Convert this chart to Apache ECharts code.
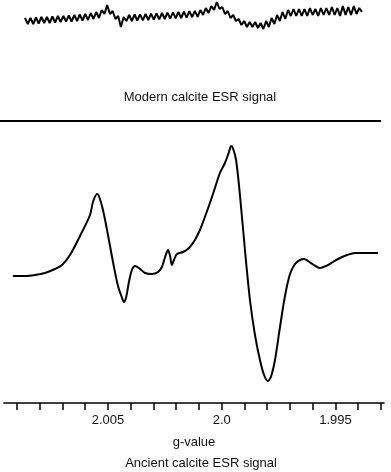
<!DOCTYPE html>
<html>
<head>
<meta charset="utf-8">
<script src="https://cdn.jsdelivr.net/npm/echarts@6/dist/echarts.min.js"></script>
<style>
html,body{margin:0;padding:0;background:#fff;}
#chart{width:391px;height:472px;}
</style>
</head>
<body>
<div id="chart"></div>
<script>
// Modern calcite ESR signal (evenly sampled, arbitrary amplitude)
const modernSignal = [
12,6,12,6,12.5,6.5,13,7,13,7,13.5,7.5,14,8,14,8.5,14.5,8.5,15,9,
15.5,9.5,16,10,17,11,18,12,20,16,25,16,19,11,14,3,13,9,15,9,
15.5,9.5,15.7,9.7,16,10,16.3,10.3,16.6,10.6,17,11,17.4,11.4,17.7,11.7,18,12,18.4,12.4,
18.8,12.8,19.2,13.2,20,15,22,17,24,20,28,21,23,16,19,12,15,9,11,5,
9,3,8,3,8,2,7,1,9,3,12,6,15,9,18,11,20,14,21,14,
21,14,21,14,22,15,21,14,22,15,22,15,23,15,22,14,24,15,23,15,
24,16,22,18
];

// Ancient calcite ESR signal: g-values and amplitude (arbitrary units)
const ancientG = [
2.00918,2.00865,2.00821,2.00777,2.00733,2.00702,2.00667,2.00623,2.00579,2.00566,
2.00548,2.00540,2.00522,2.00500,2.00478,2.00456,2.00438,2.00430,2.00421,2.00408,
2.00395,2.00381,2.00364,2.00337,2.00307,2.00280,2.00263,2.00249,2.00236,2.00227,
2.00219,2.00210,2.00197,2.00170,2.00144,2.00118,2.00096,2.00074,2.00052,2.00030,
2.00008,1.99986,1.99968,1.99959,1.99951,1.99937,1.99920,1.99898,1.99876,1.99854,
1.99832,1.99814,1.99797,1.99784,1.99766,1.99744,1.99722,1.99700,1.99678,1.99656,
1.99638,1.99621,1.99595,1.99568,1.99542,1.99511,1.99480,1.99449,1.99414,1.99370,
1.99313
];
const ancientAmp = [
-1,-1,0,2,6,10,20,39,60,73,
81,79,65,40,13,-11,-23,-27,-23,-7,
5,9,7,2,1,3,8,18,25,19,
10,15,21,23,27,35,45,58,72,87,
102,112,123,129,127,115,80,25,-25,-60,
-85,-100,-106,-102,-85,-52,-21,1,11,15,
16,14,10,7,9,13,17,20,22,22,
22
];

// Axis ticks and labels
const tickValues = [2.009,2.008,2.007,2.006,2.005,2.004,2.003,2.002,2.001,2.000,1.999,1.998,1.997,1.996,1.995,1.994,1.993];
const labelValues = [2.005, 2.000, 1.995];
const tickLabels = ['2.005', '2.0', '1.995'];

const topTitle = 'Modern calcite ESR signal';
const bottomTitle = 'Ancient calcite ESR signal';
const axisName = 'g-value';

const FONT = '"Liberation Sans", Arial, sans-serif';
const chart = echarts.init(document.getElementById('chart'), null, {renderer: 'canvas'});

const option = {
  animation: false,
  backgroundColor: '#fff',
  grid: [
    {left: 25, right: 29, top: 0, height: 30},
    {left: 4, right: 7, top: 140, bottom: 69}
  ],
  xAxis: [
    {gridIndex: 0, type: 'value', min: 0, max: modernSignal.length - 1, show: false},
    {
      gridIndex: 1, type: 'value', inverse: true,
      min: 1.992868, max: 2.009571,
      splitLine: {show: false},
      axisLine: {show: true, onZero: false, lineStyle: {color: '#000', width: 1.6}},
      axisTick: {show: true, length: 7, inside: false, customValues: tickValues, lineStyle: {color: '#000', width: 1.5}},
      axisLabel: {
        show: true, customValues: labelValues, margin: 11,
        fontFamily: FONT, fontSize: 13, color: '#111',
        formatter: function (v) {
          for (let i = 0; i < labelValues.length; i++) {
            if (Math.abs(v - labelValues[i]) < 1e-6) return tickLabels[i];
          }
          return '';
        }
      },
      name: axisName, nameLocation: 'middle', nameGap: 33,
      nameTextStyle: {fontFamily: FONT, fontSize: 13, color: '#111'}
    }
  ],
  yAxis: [
    {gridIndex: 0, type: 'value', min: 0, max: 30, show: false},
    {gridIndex: 1, type: 'value', min: -128, max: 135, show: false}
  ],
  series: [
    {
      type: 'line', xAxisIndex: 0, yAxisIndex: 0,
      data: modernSignal.map((v, i) => [i, v]),
      showSymbol: false, smooth: false, clip: false,
      lineStyle: {color: '#000', width: 2}
    },
    {
      type: 'line', xAxisIndex: 1, yAxisIndex: 1,
      data: ancientG.map((g, i) => [g, ancientAmp[i]]),
      showSymbol: false, smooth: 0.3, clip: false,
      lineStyle: {color: '#000', width: 2}
    }
  ],
  graphic: [
    {type: 'text', x: 200, y: 97, style: {text: topTitle, font: '13px ' + FONT, fill: '#111', textAlign: 'center', textVerticalAlign: 'middle'}},
    {type: 'line', shape: {x1: 0, y1: 121, x2: 381, y2: 121}, style: {stroke: '#000', lineWidth: 2}},
    {type: 'text', x: 201, y: 463, style: {text: bottomTitle, font: '13px ' + FONT, fill: '#111', textAlign: 'center', textVerticalAlign: 'middle'}}
  ]
};
chart.setOption(option);
</script>
</body>
</html>
